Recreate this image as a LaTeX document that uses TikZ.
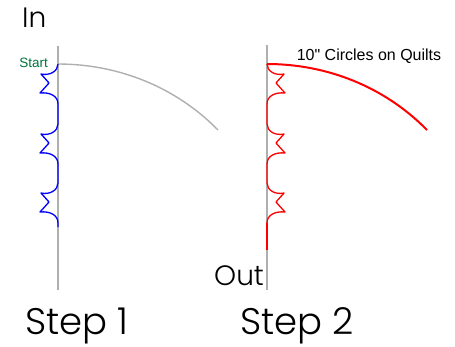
\documentclass[tikz,border=0pt]{standalone}
\usepackage{fontspec}
\setmainfont{Liberation Sans}
\newfontfamily\plainfont{Liberation Sans}
\newfontfamily\geofont{Poppins Light}
\definecolor{lgray}{RGB}{175,175,175}
\definecolor{startgreen}{RGB}{0,115,60}
\tikzset{
  axisline/.style={draw=lgray, line width=1.4pt},
  guidearc/.style={draw=lgray, line width=1.4pt},
  bluestitch/.style={draw=blue, line width=1.3pt, line join=round},
  redstitch/.style={draw=red, line width=1.3pt, line join=round},
  redarc/.style={draw=red, line width=2pt},
  bigtext/.style={font=\geofont\fontsize{28}{30}\selectfont, inner sep=0pt, anchor=base west},
  steptext/.style={font=\geofont\fontsize{37}{40}\selectfont, inner sep=0pt, anchor=base west},
  smalltext/.style={inner sep=0pt},
}
\begin{document}
\begin{tikzpicture}[x=1pt,y=-1pt]
\useasboundingbox (0,0) rectangle (455,346);
% Step 1
\coordinate (l1top) at (58,46);
\coordinate (l1bot) at (58,290);
\coordinate (a1s) at (58,64);
\coordinate (a1e) at (218,130);
\draw[axisline] (l1top) -- (l1bot);
\draw[guidearc] (a1s) .. controls (118.2,64) and (175.9,87) .. (a1e);
\draw[bluestitch] (a1s) \foreach \t in {74,134,193}{
  -- (58,{\t-10}) .. controls (58,{\t-3}) and (50,{\t+2}) .. (41,\t)
  -- (49,{\t+9}) -- (40,{\t+19})
  .. controls (50,{\t+18}) and (58,{\t+22}) .. (58,{\t+30})} -- (58,227);
% Step 2
\coordinate (l2top) at (267,45);
\coordinate (l2bot) at (267,290);
\coordinate (a2s) at (267,64);
\coordinate (a2e) at (427,130);
\coordinate (r2end) at (267,250);
\draw[axisline] (l2top) -- (l2bot);
\draw[redstitch] (a2s) \foreach \t in {74,134,193}{
  -- (267,{\t-10}) .. controls (267,{\t-3}) and (275,{\t+2}) .. (284,\t)
  -- (276,{\t+9}) -- (285,{\t+19})
  .. controls (275,{\t+18}) and (267,{\t+22}) .. (267,{\t+30})};
\draw[redarc] (267,223) -- (r2end);
\draw[redarc] (a2s) .. controls (327.2,64) and (384.9,87) .. (a2e);
% Texts
\node[bigtext] (in) at (22,27) {In};
\node[bigtext] (out) at (214,285) {Out};
\node[steptext] (s1) at (25,334) {Step 1};
\node[steptext] (s2) at (240,334) {Step 2};
\node[smalltext, anchor=base east, text=startgreen, font=\plainfont\fontsize{13.5}{15}\selectfont] (start) at (48,67) {Start};
\node[smalltext, anchor=base, font=\plainfont\fontsize{16}{18}\selectfont] (title) at (369,60) {10" Circles on Quilts};
\end{tikzpicture}
\end{document}
